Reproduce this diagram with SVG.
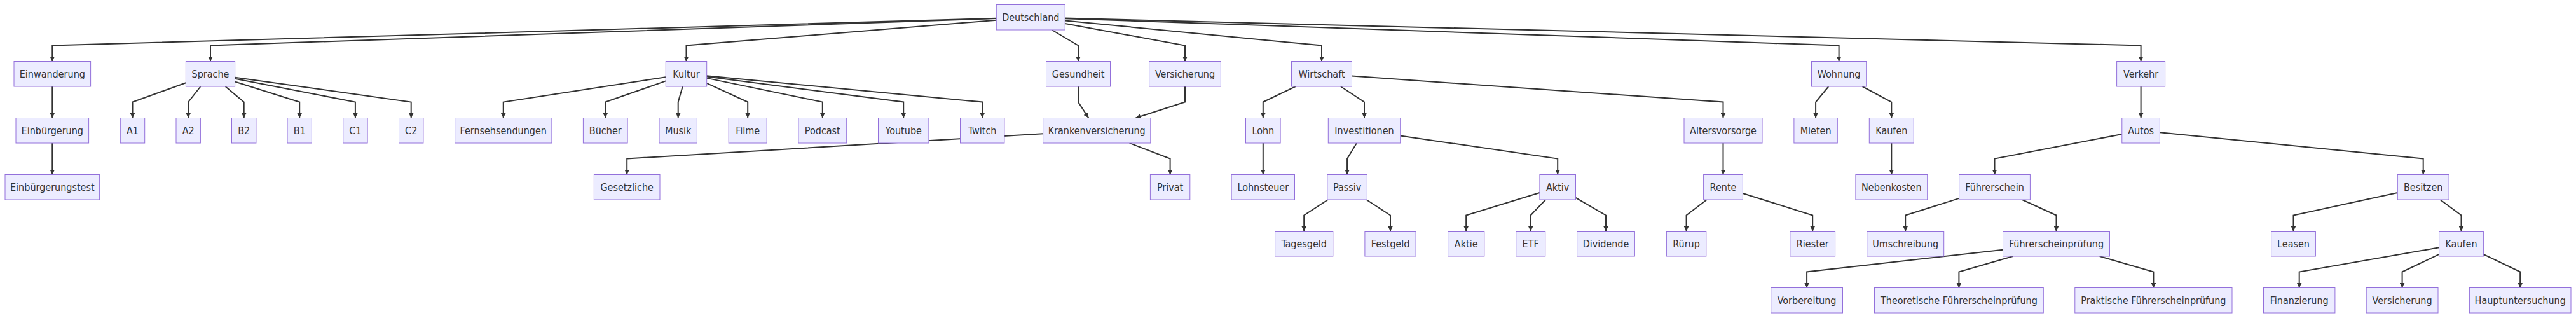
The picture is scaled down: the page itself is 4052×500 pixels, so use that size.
<svg xmlns="http://www.w3.org/2000/svg" width="4052" height="500" viewBox="0 0 4052 500">
<style>
.bg{fill:#ffffff}
.node rect{fill:#ECECFF;stroke:#9370DB;stroke-width:1px}
.node text{font-family:"DejaVu Sans Condensed","DejaVu Sans",sans-serif;font-stretch:condensed;font-size:16px;fill:#333333;text-anchor:middle}
.edges path{fill:none;stroke:#333333;stroke-width:2px;marker-end:url(#arrow)}
</style>
<defs>
<marker id="arrow" viewBox="0 0 10 10" refX="10" refY="5" markerUnits="userSpaceOnUse" markerWidth="8" markerHeight="8" orient="auto">
<path d="M0,0 L10,5 L0,10 z" fill="#333333"/>
</marker>
</defs>
<rect class="bg" x="0" y="0" width="4052" height="500"/>
<g id="connectors" class="edges">
<path d="M1567.3,28.8 L82.3,71.5 L82.3,96.5"/>
<path d="M1567.3,29.1 L331,71.5 L331,96.5"/>
<path d="M1567.3,31.66 L1079.5,71.5 L1079.5,96.5"/>
<path d="M1654.6,47 L1696,71.5 L1696,96.5"/>
<path d="M1675.3,37.1 L1864,71.5 L1864,96.5"/>
<path d="M1675.3,32.47 L2079,71.5 L2079,96.5"/>
<path d="M1675.3,29.13 L2892.6,71.5 L2892.6,96.5"/>
<path d="M1675.3,28.62 L3367.6,71.5 L3367.6,96.5"/>
<path d="M82.3,136 L82.3,185.5"/>
<path d="M82.3,225 L82.3,274.5"/>
<path d="M292.4,130.19 L208.5,160.5 L208.5,185.5"/>
<path d="M315.47,136 L296.2,160.5 L296.2,185.5"/>
<path d="M354.52,136 L383.7,160.5 L383.7,185.5"/>
<path d="M369.6,128.43 L471.2,160.5 L471.2,185.5"/>
<path d="M369.6,123.74 L558.9,160.5 L558.9,185.5"/>
<path d="M369.6,121.66 L646.7,160.5 L646.7,185.5"/>
<path d="M1047.3,121.2 L791.75,160.5 L791.75,185.5"/>
<path d="M1047.3,127.43 L952.25,160.5 L952.25,185.5"/>
<path d="M1073.8,136 L1066.7,160.5 L1066.7,185.5"/>
<path d="M1111.7,130.96 L1176.2,160.5 L1176.2,185.5"/>
<path d="M1111.7,122.89 L1293.8,160.5 L1293.8,185.5"/>
<path d="M1111.7,120.41 L1421.2,160.5 L1421.2,185.5"/>
<path d="M1111.7,119.3 L1545.2,160.5 L1545.2,185.5"/>
<path d="M1696,136 L1696,160.5 L1712.3,185.5"/>
<path d="M1864,136 L1864,160.5 L1786.45,185.5"/>
<path d="M1640.6,210.32 L986.2,249.5 L986.2,274.5"/>
<path d="M1776.7,225 L1840.6,249.5 L1840.6,274.5"/>
<path d="M2037.85,136 L1986.8,160.5 L1986.8,185.5"/>
<path d="M2108.9,136 L2146,160.5 L2146,185.5"/>
<path d="M2126.5,119.58 L2710.5,160.5 L2710.5,185.5"/>
<path d="M1986.8,225 L1986.8,274.5"/>
<path d="M2134,225 L2119.1,249.5 L2119.1,274.5"/>
<path d="M2202.7,213.49 L2450.2,249.5 L2450.2,274.5"/>
<path d="M2088.8,314 L2051.2,338.5 L2051.2,363.5"/>
<path d="M2149.4,314 L2187,338.5 L2187,363.5"/>
<path d="M2421.9,302.96 L2306.2,338.5 L2306.2,363.5"/>
<path d="M2431.2,314 L2407.7,338.5 L2407.7,363.5"/>
<path d="M2478.5,310.8 L2526,338.5 L2526,363.5"/>
<path d="M2710.5,225 L2710.5,274.5"/>
<path d="M2684.7,314 L2652.6,338.5 L2652.6,363.5"/>
<path d="M2741.4,303.95 L2851.2,338.5 L2851.2,363.5"/>
<path d="M2876.3,136 L2856.1,160.5 L2856.1,185.5"/>
<path d="M2929.5,136 L2975.3,160.5 L2975.3,185.5"/>
<path d="M2975.3,225 L2975.3,274.5"/>
<path d="M3367.6,136 L3367.6,185.5"/>
<path d="M3337.8,210.98 L3137.5,249.5 L3137.5,274.5"/>
<path d="M3397.4,208.22 L3811.7,249.5 L3811.7,274.5"/>
<path d="M3081.6,311.88 L2997.2,338.5 L2997.2,363.5"/>
<path d="M3180.8,314 L3234.5,338.5 L3234.5,363.5"/>
<path d="M3150.5,392.72 L2842.1,427.5 L2842.1,452.5"/>
<path d="M3166.2,403 L3081.4,427.5 L3081.4,452.5"/>
<path d="M3302.7,403 L3387.4,427.5 L3387.4,452.5"/>
<path d="M3771.3,302.99 L3607.5,338.5 L3607.5,363.5"/>
<path d="M3838.4,314 L3871.5,338.5 L3871.5,363.5"/>
<path d="M3836.6,389.31 L3616.7,427.5 L3616.7,452.5"/>
<path d="M3836.6,399.87 L3778.6,427.5 L3778.6,452.5"/>
<path d="M3906.4,399.91 L3964.2,427.5 L3964.2,452.5"/>
</g>
<g id="nodes">
<g id="n-deutschland" class="node"><rect x="1567.3" y="7.5" width="108" height="39.5"/><text x="1621.3" y="33">Deutschland</text></g>
<g id="n-einwanderung" class="node"><rect x="22" y="96.5" width="120.6" height="39.5"/><text x="82.3" y="122">Einwanderung</text></g>
<g id="n-sprache" class="node"><rect x="292.4" y="96.5" width="77.2" height="39.5"/><text x="331" y="122">Sprache</text></g>
<g id="n-kultur" class="node"><rect x="1047.3" y="96.5" width="64.4" height="39.5"/><text x="1079.5" y="122">Kultur</text></g>
<g id="n-gesundheit" class="node"><rect x="1645.5" y="96.5" width="101" height="39.5"/><text x="1696" y="122">Gesundheit</text></g>
<g id="n-versicherung" class="node"><rect x="1807.6" y="96.5" width="112.8" height="39.5"/><text x="1864" y="122">Versicherung</text></g>
<g id="n-wirtschaft" class="node"><rect x="2031.5" y="96.5" width="95" height="39.5"/><text x="2079" y="122">Wirtschaft</text></g>
<g id="n-wohnung" class="node"><rect x="2849.5" y="96.5" width="86.2" height="39.5"/><text x="2892.6" y="122">Wohnung</text></g>
<g id="n-verkehr" class="node"><rect x="3329.6" y="96.5" width="76" height="39.5"/><text x="3367.6" y="122">Verkehr</text></g>

<g id="n-einbuergerung" class="node"><rect x="25" y="185.5" width="114.6" height="39.5"/><text x="82.3" y="211">Einbürgerung</text></g>
<g id="n-a1" class="node"><rect x="189.3" y="185.5" width="38.4" height="39.5"/><text x="208.5" y="211">A1</text></g>
<g id="n-a2" class="node"><rect x="277" y="185.5" width="38.4" height="39.5"/><text x="296.2" y="211">A2</text></g>
<g id="n-b2" class="node"><rect x="364.5" y="185.5" width="38.4" height="39.5"/><text x="383.7" y="211">B2</text></g>
<g id="n-b1" class="node"><rect x="452" y="185.5" width="38.4" height="39.5"/><text x="471.2" y="211">B1</text></g>
<g id="n-c1" class="node"><rect x="539.7" y="185.5" width="38.4" height="39.5"/><text x="558.9" y="211">C1</text></g>
<g id="n-c2" class="node"><rect x="627.5" y="185.5" width="38.4" height="39.5"/><text x="646.7" y="211">C2</text></g>
<g id="n-fernsehsendungen" class="node"><rect x="715.6" y="185.5" width="152.3" height="39.5"/><text x="791.75" y="211">Fernsehsendungen</text></g>
<g id="n-buecher" class="node"><rect x="917.4" y="185.5" width="69.7" height="39.5"/><text x="952.25" y="211">Bücher</text></g>
<g id="n-musik" class="node"><rect x="1037" y="185.5" width="59.4" height="39.5"/><text x="1066.7" y="211">Musik</text></g>
<g id="n-filme" class="node"><rect x="1146.2" y="185.5" width="60" height="39.5"/><text x="1176.2" y="211">Filme</text></g>
<g id="n-podcast" class="node"><rect x="1255.9" y="185.5" width="75.8" height="39.5"/><text x="1293.8" y="211">Podcast</text></g>
<g id="n-youtube" class="node"><rect x="1381.5" y="185.5" width="79.4" height="39.5"/><text x="1421.2" y="211">Youtube</text></g>
<g id="n-twitch" class="node"><rect x="1510.5" y="185.5" width="69.4" height="39.5"/><text x="1545.2" y="211">Twitch</text></g>
<g id="n-krankenversicherung" class="node"><rect x="1640.6" y="185.5" width="169.2" height="39.5"/><text x="1725.2" y="211">Krankenversicherung</text></g>
<g id="n-lohn" class="node"><rect x="1959.5" y="185.5" width="54.6" height="39.5"/><text x="1986.8" y="211">Lohn</text></g>
<g id="n-investitionen" class="node"><rect x="2089.3" y="185.5" width="113.4" height="39.5"/><text x="2146" y="211">Investitionen</text></g>
<g id="n-altersvorsorge" class="node"><rect x="2649" y="185.5" width="123" height="39.5"/><text x="2710.5" y="211">Altersvorsorge</text></g>
<g id="n-mieten" class="node"><rect x="2821.9" y="185.5" width="68.4" height="39.5"/><text x="2856.1" y="211">Mieten</text></g>
<g id="n-kaufen" class="node"><rect x="2940.3" y="185.5" width="70" height="39.5"/><text x="2975.3" y="211">Kaufen</text></g>
<g id="n-autos" class="node"><rect x="3337.8" y="185.5" width="59.6" height="39.5"/><text x="3367.6" y="211">Autos</text></g>

<g id="n-einbuergerungstest" class="node"><rect x="8" y="274.5" width="148.6" height="39.5"/><text x="82.3" y="300">Einbürgerungstest</text></g>
<g id="n-gesetzliche" class="node"><rect x="934.4" y="274.5" width="103.6" height="39.5"/><text x="986.2" y="300">Gesetzliche</text></g>
<g id="n-privat" class="node"><rect x="1809.4" y="274.5" width="62.4" height="39.5"/><text x="1840.6" y="300">Privat</text></g>
<g id="n-lohnsteuer" class="node"><rect x="1937.1" y="274.5" width="99.4" height="39.5"/><text x="1986.8" y="300">Lohnsteuer</text></g>
<g id="n-passiv" class="node"><rect x="2087.8" y="274.5" width="62.6" height="39.5"/><text x="2119.1" y="300">Passiv</text></g>
<g id="n-aktiv" class="node"><rect x="2421.9" y="274.5" width="56.6" height="39.5"/><text x="2450.2" y="300">Aktiv</text></g>
<g id="n-rente" class="node"><rect x="2679.6" y="274.5" width="61.8" height="39.5"/><text x="2710.5" y="300">Rente</text></g>
<g id="n-nebenkosten" class="node"><rect x="2918.9" y="274.5" width="112.8" height="39.5"/><text x="2975.3" y="300">Nebenkosten</text></g>
<g id="n-fuehrerschein" class="node"><rect x="3081.6" y="274.5" width="111.8" height="39.5"/><text x="3137.5" y="300">Führerschein</text></g>
<g id="n-besitzen" class="node"><rect x="3771.3" y="274.5" width="80.8" height="39.5"/><text x="3811.7" y="300">Besitzen</text></g>

<g id="n-tagesgeld" class="node"><rect x="2005.6" y="363.5" width="91.2" height="39.5"/><text x="2051.2" y="389">Tagesgeld</text></g>
<g id="n-festgeld" class="node"><rect x="2146.9" y="363.5" width="80.2" height="39.5"/><text x="2187" y="389">Festgeld</text></g>
<g id="n-aktie" class="node"><rect x="2277.6" y="363.5" width="57.2" height="39.5"/><text x="2306.2" y="389">Aktie</text></g>
<g id="n-etf" class="node"><rect x="2384.7" y="363.5" width="46" height="39.5"/><text x="2407.7" y="389">ETF</text></g>
<g id="n-dividende" class="node"><rect x="2480.6" y="363.5" width="90.8" height="39.5"/><text x="2526" y="389">Dividende</text></g>
<g id="n-ruerup" class="node"><rect x="2621.4" y="363.5" width="62.4" height="39.5"/><text x="2652.6" y="389">Rürup</text></g>
<g id="n-riester" class="node"><rect x="2815.8" y="363.5" width="70.8" height="39.5"/><text x="2851.2" y="389">Riester</text></g>
<g id="n-umschreibung" class="node"><rect x="2936.7" y="363.5" width="121" height="39.5"/><text x="2997.2" y="389">Umschreibung</text></g>
<g id="n-fuehrerscheinpruefung" class="node"><rect x="3150.5" y="363.5" width="168" height="39.5"/><text x="3234.5" y="389">Führerscheinprüfung</text></g>
<g id="n-leasen" class="node"><rect x="3572.6" y="363.5" width="69.8" height="39.5"/><text x="3607.5" y="389">Leasen</text></g>
<g id="n-kaufen2" class="node"><rect x="3836.6" y="363.5" width="69.8" height="39.5"/><text x="3871.5" y="389">Kaufen</text></g>

<g id="n-vorbereitung" class="node"><rect x="2785.7" y="452.5" width="112.8" height="39.5"/><text x="2842.1" y="478">Vorbereitung</text></g>
<g id="n-theoretische" class="node"><rect x="2948.5" y="452.5" width="265.8" height="39.5"/><text x="3081.4" y="478">Theoretische Führerscheinprüfung</text></g>
<g id="n-praktische" class="node"><rect x="3263.8" y="452.5" width="247.2" height="39.5"/><text x="3387.4" y="478">Praktische Führerscheinprüfung</text></g>
<g id="n-finanzierung" class="node"><rect x="3560.5" y="452.5" width="112.4" height="39.5"/><text x="3616.7" y="478">Finanzierung</text></g>
<g id="n-versicherung2" class="node"><rect x="3722.2" y="452.5" width="112.8" height="39.5"/><text x="3778.6" y="478">Versicherung</text></g>
<g id="n-hauptuntersuchung" class="node"><rect x="3884.4" y="452.5" width="159.6" height="39.5"/><text x="3964.2" y="478">Hauptuntersuchung</text></g>
</g>
</svg>
